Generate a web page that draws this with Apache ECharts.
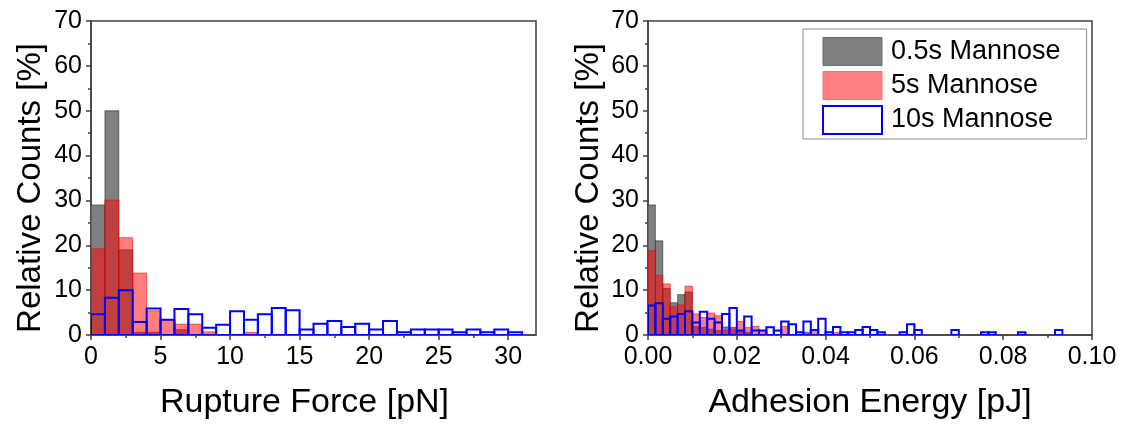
<!DOCTYPE html>
<html>
<head>
<meta charset="utf-8">
<script src="https://cdn.jsdelivr.net/npm/echarts@6/dist/echarts.min.js"></script>
<style>
  html, body { margin: 0; padding: 0; background: #fff; }
  #chart { width: 1135px; height: 425px; }
</style>
</head>
<body>
<div id="chart"></div>
<script>
// ---- data (relative counts in %) ----
const seriesNames = ['0.5s Mannose', '5s Mannose', '10s Mannose'];

// Left panel: Rupture Force [pN], bins of 1 pN starting at 0
const forceBinWidth = 1;
const forceGray = [29, 50, 19, 0.6, 0.6, 0, 1.2];
const forceRed  = [19.2, 30.1, 21.7, 13.8, 5.4, 3.4, 2.4, 2.4, 0.7, 0, 0, 0.6];
const forceBlue = [4.6, 8.3, 10.0, 2.9, 5.9, 3.4, 5.8, 4.6, 1.6, 2.3, 5.3, 3.4, 4.6, 6.0, 5.5, 1.2,
                   2.5, 3.1, 1.8, 2.5, 1.2, 3.1, 0.6, 1.2, 1.2, 1.2, 0.6, 1.2, 0.6, 1.2, 0.6];
const forceTicks = [0, 5, 10, 15, 20, 25, 30];
const forceMinorTicks = [2.5, 7.5, 12.5, 17.5, 22.5, 27.5];

// Right panel: Adhesion Energy [pJ], bins of 0.01/6 pJ starting at 0
const energyBinWidth = 0.01 / 6;
const energyGray = [29.0, 21.0, 10.4, 7.2, 9.0, 9.6, 1.9, 1.7, 1.3, 1.0, 1.8, 1.7, 1.0, 0.6,
                    0, 0, 0, 0, 0, 0, 0, 0.6];
const energyRed  = [18.8, 13.3, 11.4, 6.3, 6.7, 10.9, 4.7, 3.9, 4.9, 4.3, 1.0, 1.3, 3.0, 1.7, 1.9,
                    1.0, 0, 0, 1.9, 0, 0, 0, 1.1, 0, 0, 0.6];
const energyBlue = [6.6, 7.1, 3.6, 4.1, 4.7, 5.3, 2.8, 5.2, 3.6, 2.8, 4.7, 6.0, 1.0, 4.1, 1.0, 1.0,
                    1.7, 1.0, 3.0, 2.4, 0.6, 3.0, 1.1, 3.6, 0.6, 1.8, 0.6, 0.6, 1.1, 1.8, 1.1, 0.6,
                    0, 0, 0.6, 2.4, 1.1, 0, 0, 0, 0, 1.1, 0, 0, 0, 0.6, 0.6, 0, 0, 0, 0.6,
                    0, 0, 0, 0, 1.1];

const yTicksInterval = 10;

// ---- helpers ----
function bins(values, w) {
  return values.map((v, i) => [i * w, (i + 1) * w, v]);
}
const FONT = 'Liberation Sans, Arial, sans-serif';
const AXIS_COLOR = '#404040';

const styles = [
  { fill: '#808080', stroke: 'rgba(0,0,0,0.45)', lineWidth: 1 },
  { fill: 'rgba(255,0,0,0.5)', stroke: 'rgba(235,0,0,0.55)', lineWidth: 1 },
  { fill: 'none', stroke: '#0000ff', lineWidth: 2 }
];

function histSeries(name, data, idx, gridIdx) {
  const st = styles[idx];
  return {
    type: 'custom',
    name: name,
    xAxisIndex: gridIdx === 0 ? 0 : 2,
    yAxisIndex: gridIdx,
    clip: true,
    encode: { x: [0, 1], y: 2 },
    itemStyle: { color: idx === 2 ? '#ffffff' : st.fill },
    data: data,
    z: 2 + idx,
    renderItem: function (params, api) {
      const v = api.value(2);
      if (!v) return null;
      const p0 = api.coord([api.value(0), v]);
      const p1 = api.coord([api.value(1), 0]);
      return {
        type: 'rect',
        shape: { x: p0[0], y: p0[1], width: p1[0] - p0[0], height: p1[1] - p0[1] },
        style: { fill: st.fill, stroke: st.stroke, lineWidth: st.lineWidth }
      };
    }
  };
}

function yAxis(gridIndex, nameGap) {
  return {
    type: 'value', gridIndex: gridIndex, min: 0, max: 70, interval: yTicksInterval,
    name: 'Relative Counts [%]', nameLocation: 'middle', nameGap: nameGap,
    nameTextStyle: { fontFamily: FONT, fontSize: 33, color: '#000', padding: [0, 20, 0, 0] },
    axisLine: { show: true, lineStyle: { color: AXIS_COLOR, width: 1.5 } },
    axisTick: { show: true, length: 5, lineStyle: { color: AXIS_COLOR, width: 1.5 } },
    minorTick: { show: true, splitNumber: 2, length: 3, lineStyle: { color: AXIS_COLOR, width: 1.5 } },
    splitLine: { show: false },
    axisLabel: { fontFamily: FONT, fontSize: 25, color: '#000', margin: 9 }
  };
}

const chart = echarts.init(document.getElementById('chart'), null, { renderer: 'canvas' });
chart.setOption({
  backgroundColor: '#ffffff',
  animation: false,
  grid: [
    { left: 91, top: 21, width: 445, height: 315, show: true, borderColor: AXIS_COLOR, borderWidth: 1.5 },
    { left: 648, top: 21, width: 444, height: 315, show: true, borderColor: AXIS_COLOR, borderWidth: 1.5 }
  ],
  legend: {
    data: [
      { name: seriesNames[0], itemStyle: { color: '#808080', borderColor: '#6a6a6a', borderWidth: 1 } },
      { name: seriesNames[1], itemStyle: { color: '#ff8080', borderColor: '#ff7070', borderWidth: 1 } },
      { name: seriesNames[2], itemStyle: { color: '#ffffff', borderColor: '#0000ff', borderWidth: 2 } }
    ],
    orient: 'vertical',
    left: 803, top: 29,
    itemWidth: 59, itemHeight: 28, itemGap: 5,
    icon: 'rect',
    selectedMode: false,
    padding: [8, 26, 4, 19],
    backgroundColor: '#ffffff',
    borderColor: '#8a8a8a', borderWidth: 1,
    textStyle: { fontFamily: FONT, fontSize: 27, color: '#000', padding: [0, 0, 0, 4] },
    itemStyle: { borderWidth: 1 }
  },
  xAxis: [
    {
      type: 'value', gridIndex: 0, min: 0, max: 32,
      name: 'Rupture Force [pN]', nameLocation: 'middle', nameGap: 51,
      nameTextStyle: { fontFamily: FONT, fontSize: 34, color: '#000', padding: [0, 18, 0, 0] },
      axisLine: { show: true, onZero: false, lineStyle: { color: AXIS_COLOR, width: 1.5 } },
      axisTick: { show: true, length: 5, customValues: forceTicks, lineStyle: { color: AXIS_COLOR, width: 1.5 } },
      minorTick: { show: false },
      splitLine: { show: false },
      axisLabel: { fontFamily: FONT, fontSize: 25, color: '#000', margin: 10, customValues: forceTicks }
    },
    {
      type: 'value', gridIndex: 0, min: 0, max: 32, position: 'bottom',
      axisLine: { show: false, onZero: false },
      axisTick: { show: true, length: 3, customValues: forceMinorTicks, lineStyle: { color: AXIS_COLOR, width: 1.5 } },
      axisLabel: { show: false },
      splitLine: { show: false }
    },
    {
      type: 'value', gridIndex: 1, min: 0, max: 0.1, interval: 0.02,
      name: 'Adhesion Energy [pJ]', nameLocation: 'middle', nameGap: 51,
      nameTextStyle: { fontFamily: FONT, fontSize: 34, color: '#000' },
      axisLine: { show: true, onZero: false, lineStyle: { color: AXIS_COLOR, width: 1.5 } },
      axisTick: { show: true, length: 5, lineStyle: { color: AXIS_COLOR, width: 1.5 } },
      minorTick: { show: true, splitNumber: 2, length: 3, lineStyle: { color: AXIS_COLOR, width: 1.5 } },
      splitLine: { show: false },
      axisLabel: { fontFamily: FONT, fontSize: 25, color: '#000', margin: 10,
                   formatter: v => v.toFixed(2) }
    }
  ],
  yAxis: [yAxis(0, 44), yAxis(1, 43)],
  series: [
    histSeries(seriesNames[0], bins(forceGray, forceBinWidth), 0, 0),
    histSeries(seriesNames[1], bins(forceRed, forceBinWidth), 1, 0),
    histSeries(seriesNames[2], bins(forceBlue, forceBinWidth), 2, 0),
    histSeries(seriesNames[0], bins(energyGray, energyBinWidth), 0, 1),
    histSeries(seriesNames[1], bins(energyRed, energyBinWidth), 1, 1),
    histSeries(seriesNames[2], bins(energyBlue, energyBinWidth), 2, 1)
  ]
});
</script>
</body>
</html>
